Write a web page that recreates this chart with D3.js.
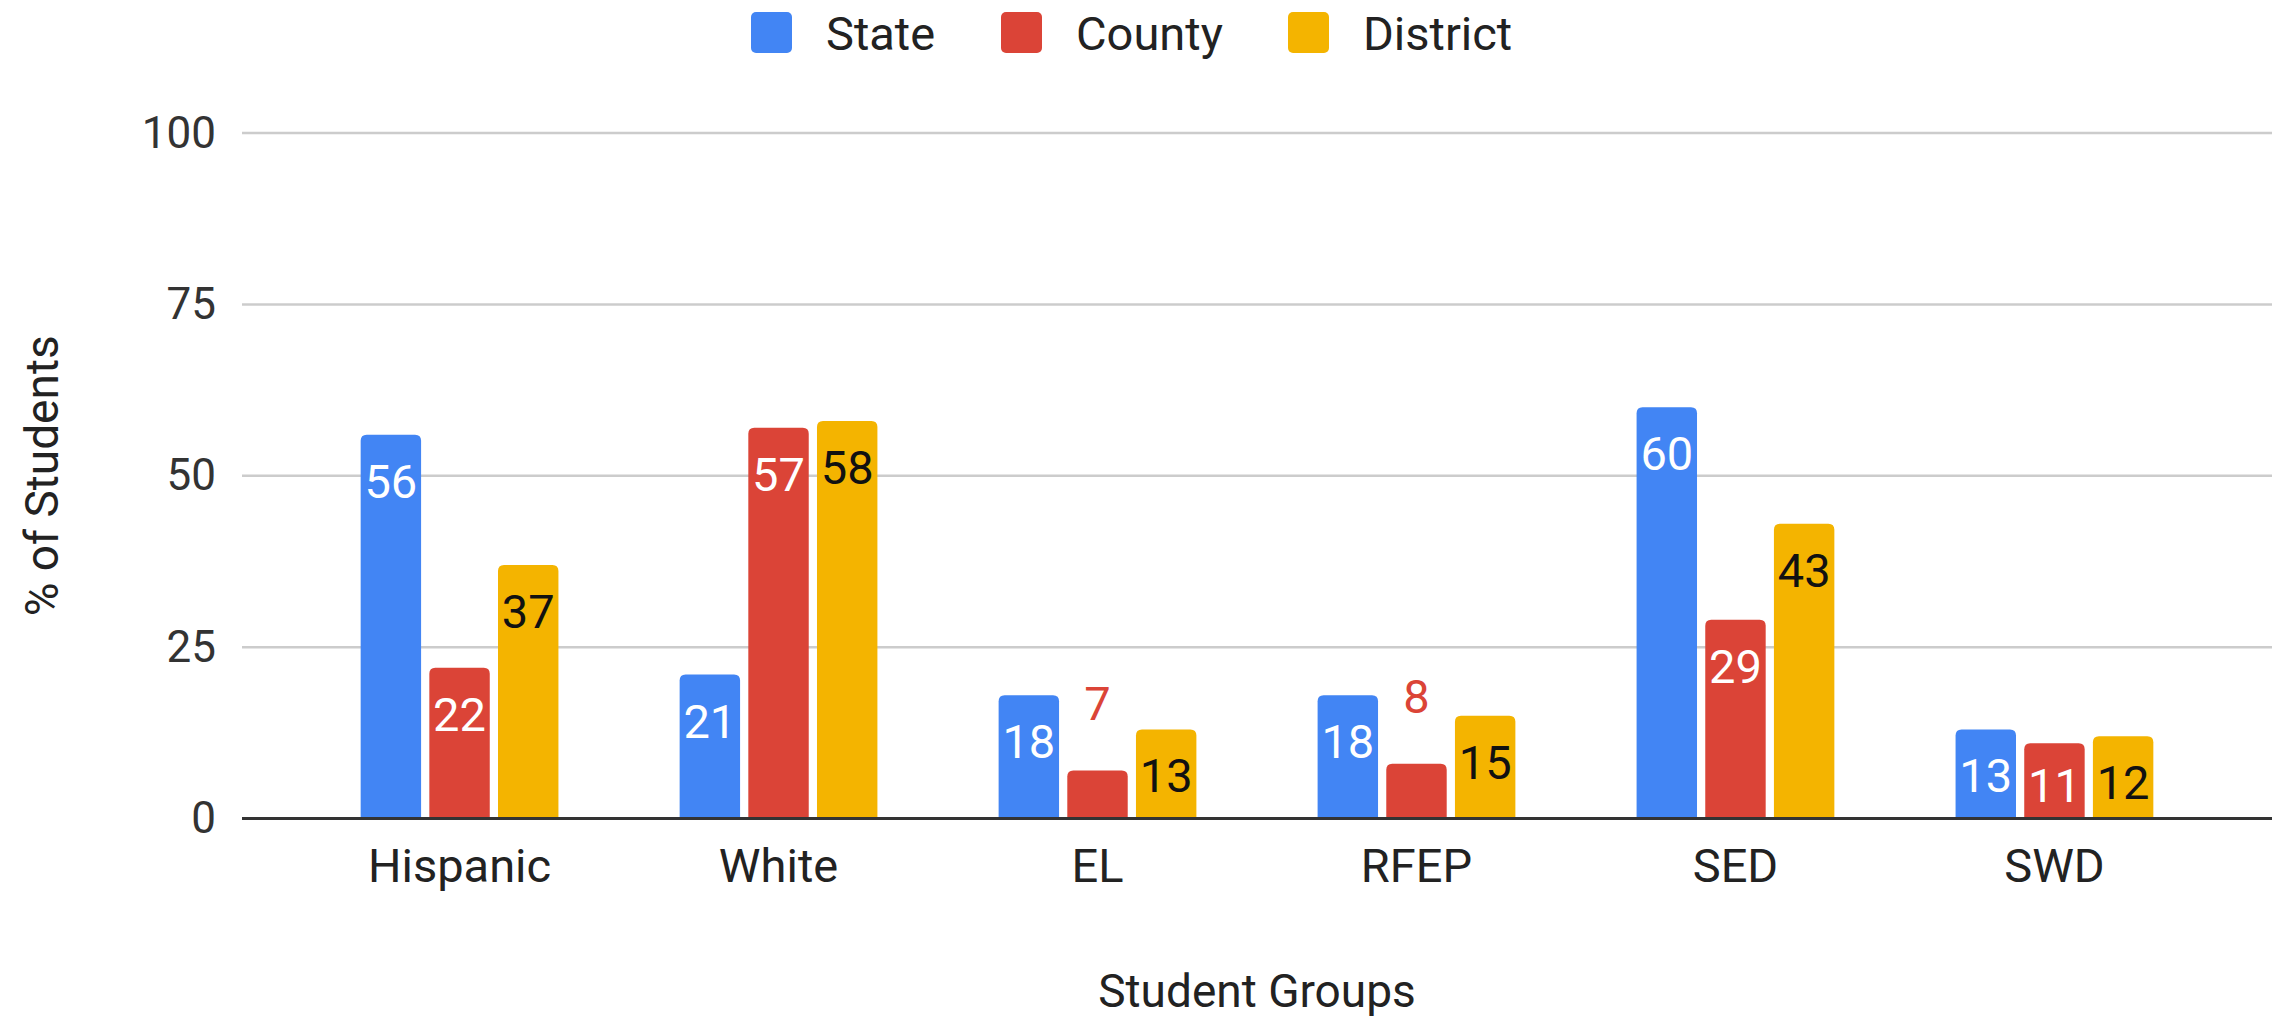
<!DOCTYPE html>
<html>
<head>
<meta charset="utf-8">
<script src="https://cdn.jsdelivr.net/npm/d3@7"></script>
<style>
  body { margin: 0; background: #fff; }
  text { font-family: Roboto, "Open Sans", sans-serif; }
</style>
</head>
<body>
<svg id="chart" width="2288" height="1020"></svg>
<script>
const categories = ['Hispanic', 'White', 'EL', 'RFEP', 'SED', 'SWD']
const seriesNames = ['State', 'County', 'District']
const stateValues = [56, 21, 18, 18, 60, 13]
const countyValues = [22, 57, 7, 8, 29, 11]
const districtValues = [37, 58, 13, 15, 43, 12]
const yTicks = [0, 25, 50, 75, 100]

const colors = ['#4285F4', '#DB4437', '#F4B400']
const insideText = ['#ffffff', '#ffffff', '#111111']

const series = [stateValues, countyValues, districtValues]

const plotLeft = 242, plotRight = 2272, plotTop = 133, plotBottom = 818.6

const svg = d3.select('#chart')

const x0 = d3.scaleBand().domain(categories).range([plotLeft, plotRight])
  .paddingInner(0.38).paddingOuter(0.372)
const x1 = d3.scaleBand().domain(seriesNames).range([0, x0.bandwidth()])
  .paddingInner(0.12)
const y = d3.scaleLinear().domain([0, 100]).range([plotBottom, plotTop])

// gridlines
svg.append('g').selectAll('line')
  .data(yTicks.filter(d => d !== 0))
  .enter().append('line')
  .attr('x1', plotLeft).attr('x2', plotRight)
  .attr('y1', d => y(d)).attr('y2', d => y(d))
  .attr('stroke', '#cccccc').attr('stroke-width', 2.5)

// y axis labels
const yAxis = d3.axisLeft(y).tickValues(yTicks).tickSize(0).tickPadding(26)
svg.append('g').attr('transform', `translate(${plotLeft},0)`).call(yAxis)
  .call(g => g.select('.domain').remove())
  .selectAll('text')
  .style('font-size', '44px').style('font-family', 'Roboto, sans-serif')
  .attr('fill', '#333')

// rounded-top bar path
function barPath(xp, yp, w, h, r) {
  r = Math.min(r, h, w / 2)
  return `M${xp},${yp + h}V${yp + r}Q${xp},${yp} ${xp + r},${yp}H${xp + w - r}Q${xp + w},${yp} ${xp + w},${yp + r}V${yp + h}Z`
}

const rows = []
categories.forEach((c, i) => {
  seriesNames.forEach((s, j) => rows.push({ cat: c, ser: s, j: j, v: series[j][i] }))
})

svg.append('g').selectAll('path')
  .data(rows).enter().append('path')
  .attr('fill', d => colors[d.j])
  .attr('d', d => barPath(x0(d.cat) + x1(d.ser), y(d.v), x1.bandwidth(), y(0) - y(d.v), 6))

// data labels
svg.append('g').selectAll('text')
  .data(rows).enter().append('text')
  .attr('x', d => x0(d.cat) + x1(d.ser) + x1.bandwidth() / 2)
  .attr('y', d => {
    const h = y(0) - y(d.v)
    if (h < 65) return y(d.v) - 68
    return Math.min(y(d.v) + 46, y(0) - 34)
  })
  .attr('dy', '0.36em')
  .attr('text-anchor', 'middle')
  .style('font-size', '47px')
  .attr('fill', d => (y(0) - y(d.v) < 65) ? colors[d.j] : insideText[d.j])
  .text(d => d.v)

// baseline
svg.append('line')
  .attr('x1', plotLeft).attr('x2', plotRight)
  .attr('y1', y(0)).attr('y2', y(0))
  .attr('stroke', '#333').attr('stroke-width', 3)

// x axis labels
const xAxis = d3.axisBottom(x0).tickSize(0).tickPadding(30)
svg.append('g').attr('transform', `translate(0,${plotBottom})`).call(xAxis)
  .call(g => g.select('.domain').remove())
  .selectAll('text')
  .style('font-size', '47px').style('font-family', 'Roboto, sans-serif')
  .attr('fill', '#222')

// axis titles
svg.append('text')
  .attr('x', (plotLeft + plotRight) / 2).attr('y', 990)
  .attr('dy', '0.36em').attr('text-anchor', 'middle')
  .style('font-size', '46px').attr('fill', '#222')
  .text('Student Groups')

svg.append('text')
  .attr('transform', `translate(41,${(plotTop + plotBottom) / 2}) rotate(-90)`)
  .attr('dy', '0.36em').attr('text-anchor', 'middle')
  .style('font-size', '46px').attr('fill', '#222')
  .text('% of Students')

// legend
const legendX = [751, 1001, 1288]
const legend = svg.append('g')
seriesNames.forEach((s, j) => {
  legend.append('rect')
    .attr('x', legendX[j]).attr('y', 12)
    .attr('width', 41).attr('height', 41).attr('rx', 5)
    .attr('fill', colors[j])
  legend.append('text')
    .attr('x', legendX[j] + 75).attr('y', 33)
    .attr('dy', '0.36em')
    .style('font-size', '47px').attr('fill', '#222')
    .text(s)
})
</script>
</body>
</html>
